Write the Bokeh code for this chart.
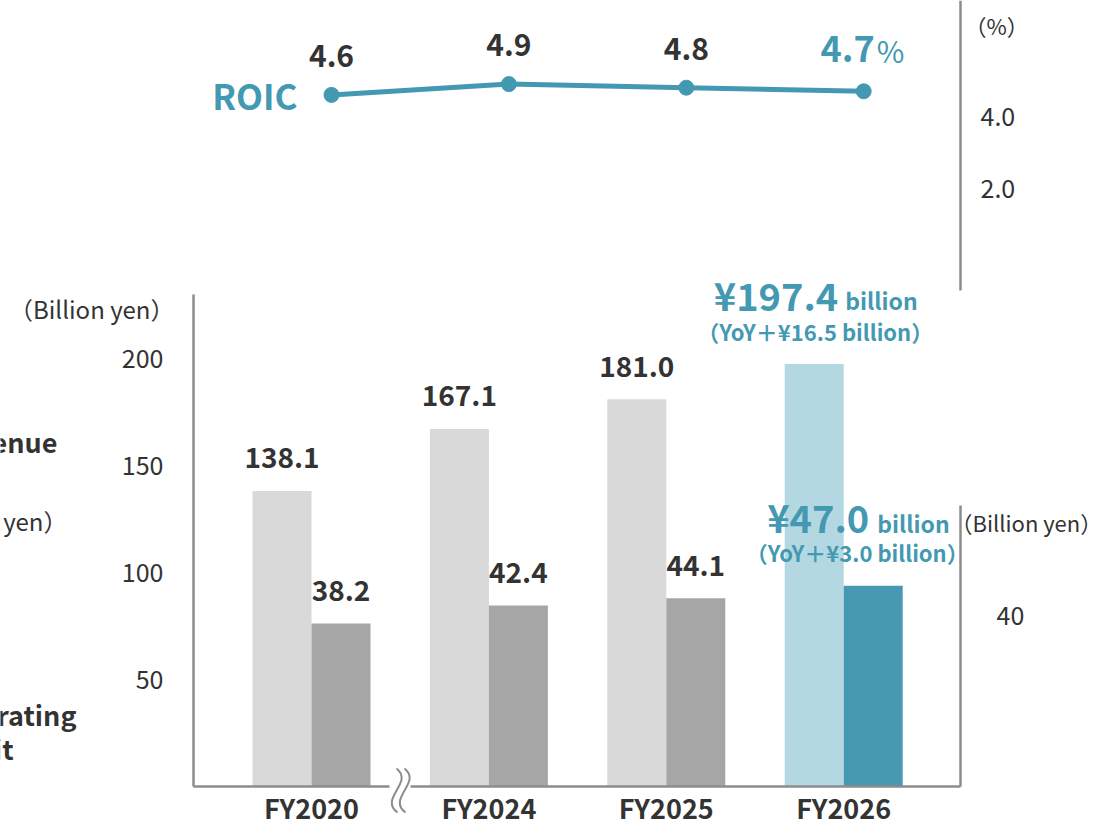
from bokeh.plotting import figure
from bokeh.models import (ColumnDataSource, LinearAxis, Range1d, FixedTicker, Label,
                          CDSView, IndexFilter, NumeralTickFormatter)
from bokeh.transform import dodge
from bokeh.core.properties import value
from bokeh.embed import file_html
from bokeh.resources import INLINE

# ---------------- data ----------------
years = ["FY2020", "FY2024", "FY2025", "FY2026"]
revenue = [138.1, 167.1, 181.0, 197.4]
op_profit = [38.2, 42.4, 44.1, 47.0]
roic = [4.6, 4.9, 4.8, 4.7]
revenue_yoy = 16.5
op_yoy = 3.0
revenue_ticks = [50, 100, 150, 200]
op_ticks = [40]
roic_ticks = [2.0, 4.0]

# ---------------- style / layout ----------------
FONT = "Noto Sans CJK JP"
DARK = "#333333"
TEAL = "#4499b2"
AXIS_C = "#8c8c8c"
REV_GRAY, OP_GRAY = "#d9d9d9", "#a6a6a6"
REV_HI, OP_HI = "#b3d8e1", "#4699b1"

W, H = 1101, 828
G0_PX, STEP = 311.0, 177.4       # pixel of first group centre, spacing
BASE_PY = 786.0                  # baseline pixel
REV_PX, OP_PX = 2.14, 4.27       # pixels per unit
ROIC0_PY, ROIC_PX = 260.0, 36.0
BAR_W = 59.0 / STEP
ROIC_SHIFT = 20.0 / STEP


def px_x(px):
    return (px - G0_PX) / STEP


def py_rev(py):
    return (BASE_PY - py) / REV_PX


def py_op(py):
    return (BASE_PY - py) / OP_PX


def py_roic(py):
    return (ROIC0_PY - py) / ROIC_PX


p = figure(width=W, height=H, output_backend="svg", toolbar_location=None,
           x_range=Range1d(px_x(0), px_x(W)),
           y_range=Range1d(py_rev(H), py_rev(0)),
           x_axis_location=None, y_axis_location=None,
           min_border=0, outline_line_color=None,
           background_fill_color="white", border_fill_color="white")
p.extra_y_ranges = {"op": Range1d(py_op(H), py_op(0)),
                    "roic": Range1d(py_roic(H), py_roic(0))}
p.grid.visible = False

LEFT_X = px_x(193)
RIGHT_X = px_x(960)

n = len(years)
hi = n - 1
src = ColumnDataSource(dict(
    idx=list(range(n)),
    revenue=revenue,
    op=op_profit,
    roic=roic,
    rev_color=[REV_HI if i == hi else REV_GRAY for i in range(n)],
    op_color=[OP_HI if i == hi else OP_GRAY for i in range(n)],
    rev_text=[f"{v:.1f}" for v in revenue],
    op_text=[f"{v:.1f}" for v in op_profit],
    roic_text=[f"{v:.1f}" for v in roic],
))
rest = CDSView(filter=IndexFilter(list(range(n - 1))))
last = CDSView(filter=IndexFilter([hi]))
first = CDSView(filter=IndexFilter([0]))

# ---------------- axes ----------------
common = dict(axis_line_color=AXIS_C, axis_line_width=2.5,
              major_tick_line_color=None, minor_tick_line_color=None,
              major_tick_in=0, major_tick_out=0, minor_tick_in=0, minor_tick_out=0,
              major_label_text_font=FONT, major_label_text_color=DARK)

ax_l = LinearAxis(ticker=FixedTicker(ticks=revenue_ticks), fixed_location=LEFT_X,
                  bounds=(0, py_rev(294)), major_label_standoff=30,
                  major_label_text_font_size="25px", **common)
p.add_layout(ax_l, "left")

ax_roic = LinearAxis(y_range_name="roic", ticker=FixedTicker(ticks=roic_ticks),
                     formatter=NumeralTickFormatter(format="0.0"),
                     fixed_location=RIGHT_X, bounds=(py_roic(290), py_roic(0)),
                     major_label_standoff=20, major_label_text_font_size="25px", **common)
p.add_layout(ax_roic, "right")

ax_op = LinearAxis(y_range_name="op", ticker=FixedTicker(ticks=op_ticks),
                   fixed_location=RIGHT_X, bounds=(0, py_op(505)),
                   major_label_standoff=36, major_label_text_font_size="25px", **common)
p.add_layout(ax_op, "right")

ax_b = LinearAxis(ticker=FixedTicker(ticks=list(range(n))),
                  major_label_overrides={i: y for i, y in enumerate(years)},
                  fixed_location=0, bounds=(LEFT_X, RIGHT_X),
                  major_label_standoff=1, major_label_text_font_size="27px",
                  major_label_text_font_style="bold", **common)
p.add_layout(ax_b, "below")

# ---------------- bars ----------------
p.vbar(x=dodge("idx", -BAR_W / 2), top="revenue", width=BAR_W, bottom=0,
       fill_color="rev_color", line_color=None, source=src)
p.vbar(x=dodge("idx", BAR_W / 2), top="op", width=BAR_W, bottom=0,
       fill_color="op_color", line_color=None, source=src, y_range_name="op")

# value labels (regular years)
lbl = dict(text_font=value(FONT), text_font_style="bold", text_font_size="28px",
           text_color=DARK, text_align="center", text_baseline="middle")
p.text(x=dodge("idx", -BAR_W / 2), y="revenue", text="rev_text", source=src, view=rest,
       y_offset=-33, **lbl)
p.text(x=dodge("idx", BAR_W / 2), y="op", text="op_text", source=src, view=rest,
       y_offset=-33, y_range_name="op", **lbl)

# highlighted year labels
hsrc = ColumnDataSource(dict(
    idx=[hi], revenue=[revenue[hi]], op=[op_profit[hi]],
    rev_big=[f"¥{revenue[hi]:.1f}"], op_big=[f"¥{op_profit[hi]:.1f}"],
    unit=["billion"],
    rev_yoy=[f"（YoY＋¥{revenue_yoy:.1f} billion）"],
    op_yoy=[f"（YoY＋¥{op_yoy:.1f} billion）"],
))
hb = dict(text_font=value(FONT), text_font_style="bold", text_color=TEAL,
          text_baseline="middle", source=hsrc)
p.text(x=dodge("idx", -BAR_W / 2), y="revenue", text="rev_big", text_align="right",
       text_font_size="38px", x_offset=24, y_offset=-70, **hb)
p.text(x=dodge("idx", -BAR_W / 2), y="revenue", text="unit", text_align="left",
       text_font_size="23px", x_offset=31, y_offset=-64, **hb)
p.text(x=dodge("idx", -BAR_W / 2), y="revenue", text="rev_yoy", text_align="center",
       text_font_size="22px", x_offset=1, y_offset=-33, **hb)
p.text(x=dodge("idx", BAR_W / 2), y="op", text="op_big", text_align="right",
       text_font_size="38px", x_offset=-4, y_offset=-69, y_range_name="op", **hb)
p.text(x=dodge("idx", BAR_W / 2), y="op", text="unit", text_align="left",
       text_font_size="23px", x_offset=4, y_offset=-63, y_range_name="op", **hb)
p.text(x=dodge("idx", BAR_W / 2), y="op", text="op_yoy", text_align="center",
       text_font_size="22px", x_offset=-16, y_offset=-34, y_range_name="op", **hb)

# ---------------- axis break ----------------
brk = 0.5
p.quad(left=[brk + (389 - 399.7) / STEP], right=[brk + (410 - 399.7) / STEP],
       bottom=[-4 / REV_PX], top=[4 / REV_PX],
       fill_color="white", line_color=None, level="overlay")
for dx in (0.0, 8.0):
    p.bezier(x0=[brk + (-3.7 + dx) / STEP], y0=[18 / REV_PX],
             x1=[brk + (-2.7 + dx) / STEP], y1=[-26 / REV_PX],
             cx0=[brk + (14.3 + dx) / STEP], cy0=[4 / REV_PX],
             cx1=[brk + (-21.7 + dx) / STEP], cy1=[-12 / REV_PX],
             line_color=AXIS_C, line_width=2, level="overlay")

# ---------------- ROIC ----------------
p.line(x=dodge("idx", ROIC_SHIFT), y="roic", source=src, y_range_name="roic",
       line_color=TEAL, line_width=5)
p.scatter(x=dodge("idx", ROIC_SHIFT), y="roic", source=src, y_range_name="roic",
          size=15, fill_color=TEAL, line_color=TEAL)
p.text(x=dodge("idx", ROIC_SHIFT), y="roic", text="roic_text", source=src, view=rest,
       y_range_name="roic", text_font=value(FONT), text_font_style="bold",
       text_font_size="30px", text_color=DARK, text_align="center",
       text_baseline="middle", y_offset=-39)
p.text(x=dodge("idx", ROIC_SHIFT), y="roic", text="roic_text", source=src, view=last,
       y_range_name="roic", text_font=value(FONT), text_font_style="bold",
       text_font_size="36px", text_color=TEAL, text_align="right",
       text_baseline="middle", y_offset=-43, x_offset=11)
p.text(x=dodge("idx", ROIC_SHIFT), y="roic", text=value("%"), source=src, view=last,
       y_range_name="roic", text_font=value(FONT), text_font_style="normal",
       text_font_size="30px", text_color=TEAL, text_align="left",
       text_baseline="middle", y_offset=-41, x_offset=13)
p.text(x=dodge("idx", ROIC_SHIFT), y="roic", text=value("ROIC"), source=src, view=first,
       y_range_name="roic", text_font=value(FONT), text_font_style="bold",
       text_font_size="35px", text_color=TEAL, text_align="right",
       text_baseline="middle", y_offset=0, x_offset=-34)

# ---------------- side titles ----------------
def add_label(text, x, y, align, size, bold=False, color=DARK, x_off=0, yr="default"):
    p.add_layout(Label(x=x, y=y, text=text, text_align=align, text_baseline="middle",
                       text_font=FONT, text_font_size=size,
                       text_font_style="bold" if bold else "normal",
                       text_color=color, x_offset=x_off, y_range_name=yr))


add_label("（Billion yen）", LEFT_X, py_rev(308), "right", "24px", x_off=-19)
add_label("Revenue", px_x(57), py_rev(441), "right", "27px", bold=True)
add_label("（Billion yen）", px_x(67), py_rev(520), "right", "24px")
add_label("Operating", px_x(76), py_rev(714), "right", "27px", bold=True)
add_label("profit", px_x(76), py_rev(748), "right", "27px", bold=True, x_off=-63)
add_label("（%）", RIGHT_X, py_roic(24), "left", "22px", x_off=4, yr="roic")
add_label("（Billion yen）", RIGHT_X, py_op(521), "left", "22px", x_off=-10, yr="op")

open("out.html", "w").write(file_html(p, INLINE))
